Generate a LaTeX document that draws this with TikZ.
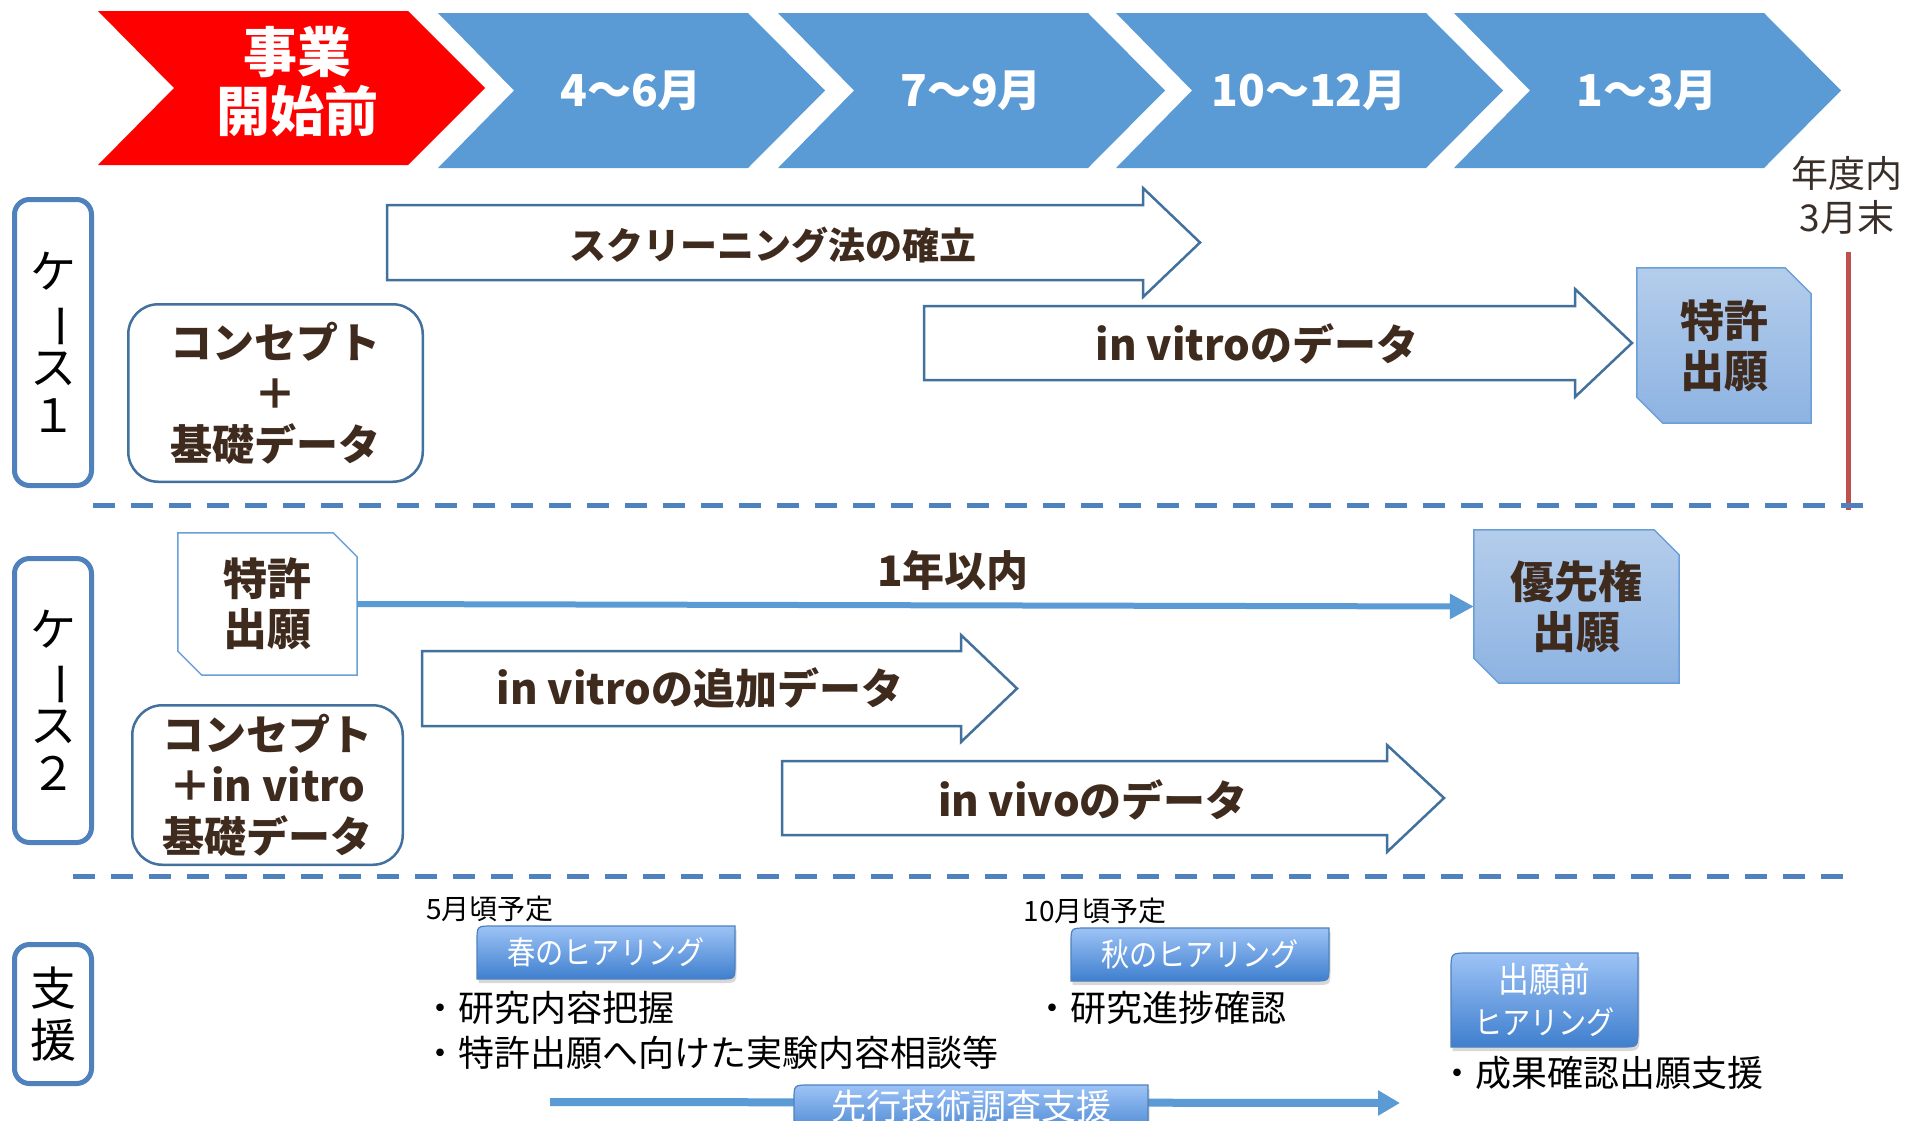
\documentclass[tikz,border=0pt]{standalone}
\usepackage{fontspec}
\setmainfont{Noto Sans CJK JP}
\newfontfamily\condf{Noto Sans CJK JP}[FakeStretch=0.88]
\usepackage{graphicx}
\usetikzlibrary{arrows.meta,shadows,calc}
\pgfdeclarelayer{back}
\pgfdeclarelayer{bg}
\pgfsetlayers{back,bg,main}
\definecolor{chevred}{HTML}{FF0000}
\definecolor{chevblue}{HTML}{5B9BD5}
\definecolor{txtbrown}{HTML}{3F2A1E}
\definecolor{arrline}{HTML}{41719C}
\definecolor{lblline}{HTML}{4F81BD}
\definecolor{redline}{HTML}{C0504D}
\definecolor{pattop}{HTML}{B4CDEB}
\definecolor{patbot}{HTML}{8DB3E2}
\definecolor{patline}{HTML}{6A9FD9}
\definecolor{btntop}{HTML}{9DC3F6}
\definecolor{btnbot}{HTML}{3F7FCE}
\definecolor{btnline}{HTML}{4F81BD}
\definecolor{connblue}{HTML}{5B9BD5}
\definecolor{darktxt}{HTML}{3A2E28}
\newcommand\myfs[2]{\fontsize{#1}{#2}\selectfont}
\tikzset{
 chevtxt/.style={text=white, font=\myfs{44}{50}\bfseries, align=center},
 lblbox/.style={draw=lblline, line width=5pt, rounded corners=15pt, inner sep=0pt, align=center, font=\myfs{46}{48}},
 conbox/.style={draw=arrline, line width=2.5pt, rounded corners=30pt, inner sep=0pt, align=center, text=txtbrown, font=\myfs{42}{51}\bfseries},
 blkarr/.style={draw=arrline, line width=2.5pt, fill=white},
 arrtxt/.style={text=txtbrown, font=\myfs{42}{46}\bfseries},
 patbox/.style={inner sep=0pt, align=center, text=txtbrown, font=\myfs{44}{50}\bfseries},
 patshade/.style={top color=pattop, bottom color=patbot, draw=patline, line width=1.5pt},
 patwhite/.style={fill=white, draw=patline, line width=1.5pt},
 dashln/.style={draw=lblline, line width=5pt, dash pattern=on 22pt off 16pt},
 conn/.style={draw=connblue, line width=6pt, -{Triangle[length=24pt,width=24pt]}},
 btnshape/.style={top color=btntop, bottom color=btnbot, draw=btnline, line width=1.2pt, drop shadow={shadow xshift=1.5pt, shadow yshift=-4pt, opacity=0.3}},
 btntxt/.style={text=white, align=center, font=\myfs{32}{42}\condf},
 notetxt/.style={text=black, font=\myfs{28}{32}},
 bullettxt/.style={text=black, font=\myfs{36}{40}, anchor=west, inner sep=0pt},
}
\newcommand\chamf[3]{%
 \begin{pgfonlayer}{bg}
 \path[#3] (#1.north west) -- ([xshift=-#2pt]#1.north east) -- ([yshift=-#2pt]#1.north east) -- (#1.south east) -- ([xshift=#2pt]#1.south west) -- ([yshift=#2pt]#1.south west) -- cycle;
 \end{pgfonlayer}}
\newcommand\mybtn[7]{%
 \path[btnshape] (#2,#5) -- (#2,#3+#6) .. controls (#2,#3) .. (#2+#6,#3) -- (#4,#3) -- (#4,#5-#6) .. controls (#4,#5) .. (#4-#6,#5) -- cycle;
 \node[btntxt] (#1) at ({(#2+#4)/2},{(#3+#5)/2}) {#7};}
\begin{document}
\begin{tikzpicture}[x=1pt,y=-1pt]
\useasboundingbox (0,0) rectangle (1909,1120);
\clip (0,0) rectangle (1909,1120);
\begin{pgfonlayer}{back}
\fill[white] (0,0) rectangle (1909,1120);
\end{pgfonlayer}
% header chevrons
\path[fill=chevred] (98,11) -- (408,11) -- (485,88) -- (408,165) -- (98,165) -- (174,88) -- cycle;
\node[chevtxt, font=\myfs{54}{59}\bfseries] (pre) at (297,82) {事業\\開始前};
\foreach \L/\lab/\nm in {438/{4～6月}/qa, 778/{7～9月}/qb, 1116/{10～12月}/qc, 1454/{1～3月}/qd} {
 \path[fill=chevblue] (\L,13) -- ({\L+310},13) -- ({\L+387},90.5) -- ({\L+310},168) -- (\L,168) -- ({\L+76},90.5) -- cycle;
 \node[chevtxt] (\nm) at ({\L+193},91) {\lab};
}
\node[text=darktxt, font=\myfs{37}{44}, align=center] (nendo) at (1847,195) {年度内\\3月末};
\draw[redline, line width=5pt] (1848,252) -- (1848,510);
% separators
\draw[dashln] (93,505) -- (1866,505);
\draw[dashln] (73,876) -- (1847,876);
% row labels
\node[lblbox, minimum width=77pt, minimum height=286pt] (case1) at (53,342.5) {ケ\\\rotatebox[origin=c]{-90}{ー}\\ス\\１};
\node[lblbox, minimum width=77pt, minimum height=284pt] (case2) at (53,700.5) {ケ\\\rotatebox[origin=c]{-90}{ー}\\ス\\２};
\node[lblbox, minimum width=77pt, minimum height=139pt, font=\myfs{46}{52}] (shien) at (53,1014) {支\\援};
% case 1
\node[conbox, minimum width=294.5pt, minimum height=177.5pt] (con1) at (275.5,393) {コンセプト\\＋\\基礎データ};
\draw[blkarr] (387,205) -- (1143,205) -- (1143,188) -- (1200,242.5) -- (1143,297) -- (1143,280) -- (387,280) -- cycle;
\node[arrtxt, font=\myfs{37}{42}\bfseries] (scr) at (773,245) {スクリーニング法の確立};
\draw[blkarr] (924,306) -- (1575,306) -- (1575,289) -- (1632,343) -- (1575,397) -- (1575,380) -- (924,380) -- cycle;
\node[arrtxt] (vit1) at (1257,344) {in vitroのデータ};
\node[patbox, minimum width=174pt, minimum height=155pt] (pat1) at (1724,345.5) {特許\\出願};
\chamf{pat1}{26}{patshade}
% case 2
\node[patbox, minimum width=179pt, minimum height=142pt] (pat2) at (267.5,604) {特許\\出願};
\chamf{pat2}{24}{patwhite}
\node[patbox, minimum width=205pt, minimum height=153pt] (prio) at (1576.5,606.5) {優先権\\出願};
\chamf{prio}{25}{patshade}
\draw[conn] (pat2.east) -- (prio.west);
\node[text=txtbrown, font=\myfs{42}{46}\bfseries] (year) at (953,570) {1年以内};
\node[conbox, minimum width=270.5pt, minimum height=159.5pt] (con2) at (267.5,785) {コンセプト\\＋in vitro\\基礎データ};
\draw[blkarr] (422,651) -- (961,651) -- (961,635) -- (1017,688.5) -- (961,742) -- (961,726) -- (422,726) -- cycle;
\node[arrtxt] (vit2) at (700,688) {in vitroの追加データ};
\draw[blkarr] (782,761) -- (1387,761) -- (1387,745) -- (1444,798) -- (1387,852) -- (1387,835) -- (782,835) -- cycle;
\node[arrtxt] (viv) at (1093,800) {in vivoのデータ};
% support
\node[notetxt] (may) at (490,909) {5月頃予定};
\node[notetxt] (oct) at (1095,911) {10月頃予定};
\mybtn{spring}{477}{926}{735}{979}{15}{春のヒアリング}
\mybtn{autumn}{1071}{928}{1329}{981}{15}{秋のヒアリング}
\mybtn{prehear}{1451}{953}{1638}{1047}{17}{\myfs{35}{43}出願前\\ヒアリング}
\node[bullettxt] (b1) at (422,1008) {・研究内容把握};
\node[bullettxt] (b2) at (422,1053) {・特許出願へ向けた実験内容相談等};
\node[bullettxt] (b3) at (1034,1008) {・研究進捗確認};
\node[bullettxt] (b4) at (1439,1073) {・成果確認出願支援};
\coordinate (sa) at (550,1102);
\coordinate (sb) at (1400,1103);
\draw[conn, line width=8pt, -{Triangle[length=22pt,width=24pt]}] (sa) -- (sb);
\path[btnshape] (794,1140) -- (794,1100) .. controls (794,1085) .. (809,1085) -- (1148,1085) -- (1148,1140) -- cycle;
\node[btntxt, font=\myfs{35}{40}] (prior) at (971,1106) {先行技術調査支援};
\end{tikzpicture}
\end{document}
